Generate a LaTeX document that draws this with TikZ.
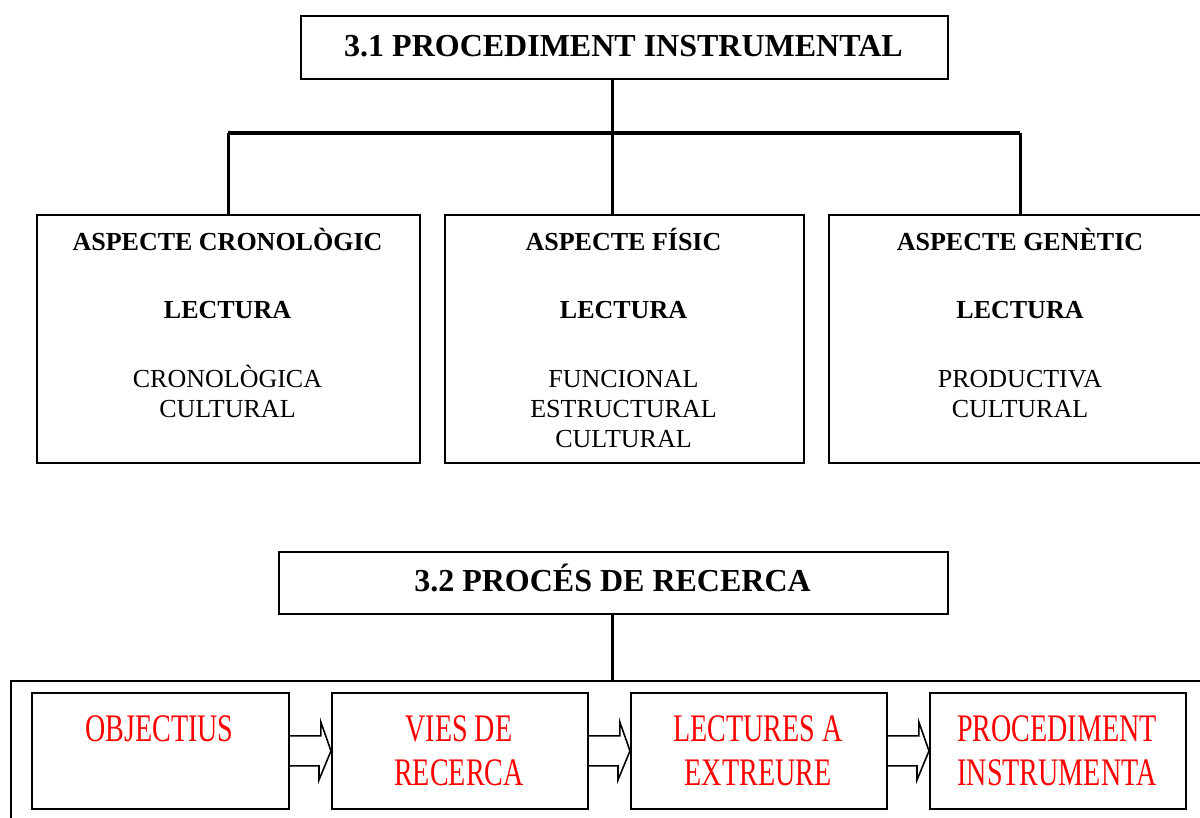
\documentclass[tikz,border=0pt]{standalone}
\usepackage{fontspec}
\setmainfont{Liberation Serif}
\newfontfamily\narrowfont[FakeStretch=0.72]{Liberation Serif}
\begin{document}
\begin{tikzpicture}[x=1pt,y=-1pt,
  box/.style={draw,line width=1.8pt,inner sep=0pt,anchor=north west},
  conn/.style={line width=3pt},
  ttl/.style={font=\bfseries\fontsize{32}{38}\selectfont,anchor=base,inner sep=0pt},
  hd/.style={font=\bfseries\fontsize{26}{30}\selectfont,anchor=base,inner sep=0pt},
  rg/.style={font=\fontsize{26}{30}\selectfont,anchor=base,inner sep=0pt},
  rd/.style={font=\narrowfont\fontsize{39}{44}\selectfont,text=red,anchor=base,inner sep=0pt},
  barrow/.style={line width=1.6pt,line join=miter}]
\useasboundingbox (0,0) rectangle (1200,817);
\fill[white] (0,0) rectangle (1200,817);

% ---- 3.1 ----
\node[box,minimum width=647pt,minimum height=63pt] (t1) at (300,15) {};
\node[ttl] (t1txt) at (623.5,56) {3.1 PROCEDIMENT INSTRUMENTAL};

\node[box,minimum width=383pt,minimum height=248pt] (a1) at (36,214) {};
\node[box,minimum width=359pt,minimum height=248pt] (a2) at (444,214) {};
\node[box,minimum width=384pt,minimum height=248pt] (a3) at (828,214) {};

\coordinate (b1) at (228,133);
\coordinate (b2) at (612,133);
\coordinate (b3) at (1020,133);
\draw[conn] (b2 |- t1.south) -- (b2);
\draw[line width=3.5pt] (b1) -- (b3);
\draw[conn] (b1) -- (b1 |- a1.north);
\draw[conn] (b2) -- (b2 |- a2.north);
\draw[conn] (b3) -- (b3 |- a3.north);

\node[hd] (a1h) at (227.5,250) {ASPECTE CRONOLÒGIC};
\node[hd] (a1l) at (227.5,318) {LECTURA};
\node[rg] (a1r1) at (227.5,387) {CRONOLÒGICA};
\node[rg] (a1r2) at (227.5,417) {CULTURAL};

\node[hd] (a2h) at (623.5,250) {ASPECTE FÍSIC};
\node[hd] (a2l) at (623.5,318) {LECTURA};
\node[rg] (a2r1) at (623.5,387) {FUNCIONAL};
\node[rg] (a2r2) at (623.5,417) {ESTRUCTURAL};
\node[rg] (a2r3) at (623.5,447) {CULTURAL};

\node[hd] (a3h) at (1020,250) {ASPECTE GENÈTIC};
\node[hd] (a3l) at (1020,318) {LECTURA};
\node[rg] (a3r1) at (1020,387) {PRODUCTIVA};
\node[rg] (a3r2) at (1020,417) {CULTURAL};

% ---- 3.2 ----
\node[box,minimum width=669pt,minimum height=62pt] (t2) at (278,551) {};
\node[ttl] (t2txt) at (612.5,591) {3.2 PROCÉS DE RECERCA};

\node[draw,line width=1.6pt,inner sep=0pt,anchor=north west,minimum width=1210pt,minimum height=160pt] (outer) at (10,680) {};
\coordinate (c2) at (612,680);
\draw[conn] (c2 |- t2.south) -- (c2);

\node[box,minimum width=257pt,minimum height=116pt] (pA) at (31,692) {};
\node[box,minimum width=256pt,minimum height=116pt] (pB) at (331,692) {};
\node[box,minimum width=256pt,minimum height=116pt] (pC) at (630,692) {};
\node[box,minimum width=256pt,minimum height=116pt] (pD) at (929,692) {};

\node[rd] (pA1) at (159.5,741) {OBJECTIUS};
\node[rd] (pB1) at (459,741) {VIES DE};
\node[rd] (pB2) at (459,785) {RECERCA};
\node[rd] (pC1) at (758,741) {LECTURES A};
\node[rd] (pC2) at (758,785) {EXTREURE};
\node[rd] (pD1) at (1057,741) {PROCEDIMENT};
\node[rd] (pD2) at (1057,785) {INSTRUMENTA};

\foreach \s/\t in {pA/pB,pB/pC,pC/pD}{
  \draw[barrow] (\s.east) ++(0,-15) -- ++(31,0) -- ++(0,-14) -- (\t.west)
     -- ++(-12,29) -- ++(0,-14) -- ++(-31,0);
}
\end{tikzpicture}
\end{document}
